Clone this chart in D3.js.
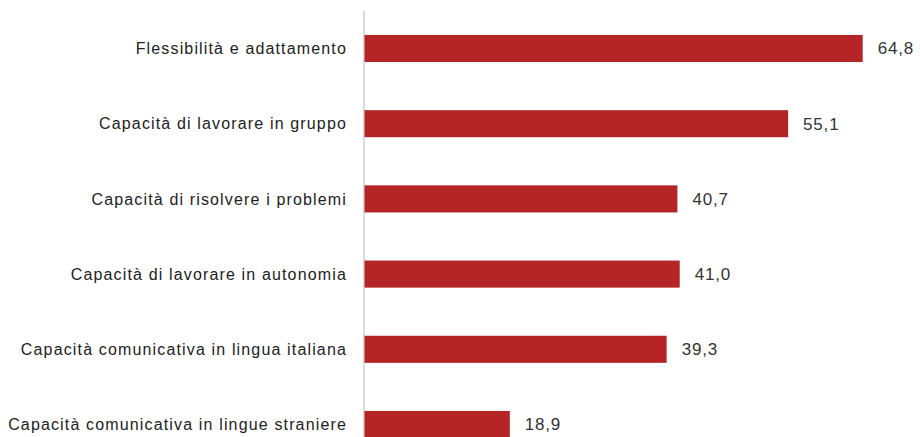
<!DOCTYPE html>
<html><head><meta charset="utf-8">
<script src="https://cdn.jsdelivr.net/npm/d3@7"></script>
<style>body{margin:0;background:#fff}svg{display:block}</style>
</head><body>
<svg id="c" width="920" height="437"></svg>
<script>
const categories = [
  "Flessibilità e adattamento",
  "Capacità di lavorare in gruppo",
  "Capacità di risolvere i problemi",
  "Capacità di lavorare in autonomia",
  "Capacità comunicativa in lingua italiana",
  "Capacità comunicativa in lingue straniere"
];
const values = [64.8, 55.1, 40.7, 41.0, 39.3, 18.9];
const valueLabels = ["64,8", "55,1", "40,7", "41,0", "39,3", "18,9"];

const svg = d3.select("#c");
const x0 = 364.5;
const x = d3.scaleLinear().domain([0, 64.8]).range([x0, 862.7]);
const y = d3.scaleBand().domain(categories).range([10.9, 462.1]).paddingInner(0.64).paddingOuter(0.32);

svg.append("line").attr("x1", 364).attr("x2", 364).attr("y1", 11).attr("y2", 437)
  .attr("stroke", "#cfcfcf").attr("stroke-width", 1.5);

const g = svg.selectAll("g.row").data(categories).join("g").attr("class","row");
g.append("rect")
  .attr("x", x0)
  .attr("y", d => y(d))
  .attr("width", (d,i) => x(values[i]) - x0)
  .attr("height", y.bandwidth())
  .attr("fill", "#b52528");
g.append("text")
  .attr("x", 347)
  .attr("y", d => y(d) + y.bandwidth()/2)
  .attr("dy", "0.35em")
  .attr("text-anchor", "end")
  .attr("font-family", "Liberation Sans, Arial, sans-serif")
  .attr("font-size", 16)
  .attr("letter-spacing", "1.15px")
  .attr("fill", "#222")
  .text(d => d);
g.append("text")
  .attr("x", (d,i) => x(values[i]) + 15)
  .attr("y", d => y(d) + y.bandwidth()/2)
  .attr("dy", "0.35em")
  .attr("font-family", "Liberation Sans, Arial, sans-serif")
  .attr("font-size", 17)
  .attr("letter-spacing", "0.8px")
  .attr("fill", "#333")
  .text((d,i) => valueLabels[i]);
</script>
</body></html>
